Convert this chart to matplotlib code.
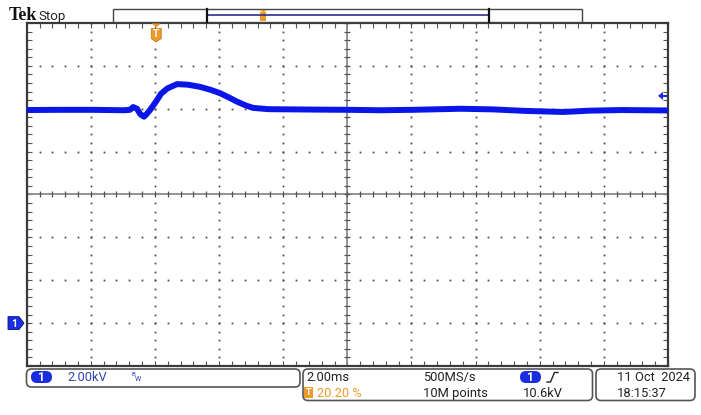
import numpy as np
import matplotlib
matplotlib.use('Agg')
import matplotlib.pyplot as plt
from matplotlib.patches import FancyBboxPatch, Rectangle, Polygon

time_ms = [-4.04, -3.0, -2.0, -1.0, -0.82, -0.72, -0.60, -0.50, -0.38, -0.30,
           -0.19, 0.0, 0.15, 0.35, 0.65, 1.0, 1.37, 1.7, 2.0, 2.3, 2.52, 2.8,
           3.02, 3.5, 5.0, 6.0, 7.0, 8.0, 9.5, 10.5, 11.5, 12.7, 13.5, 14.5, 15.96]
voltage_kv = [9.94, 9.95, 9.95, 9.93, 9.95, 10.08, 10.00, 9.75, 9.63, 9.75,
              9.95, 10.35, 10.70, 10.95, 11.15, 11.12, 11.02, 10.88, 10.72, 10.50, 10.33, 10.15,
              10.04, 9.98, 9.96, 9.95, 9.93, 9.95, 10.00, 9.97, 9.90, 9.85, 9.91, 9.94, 9.92]

time_per_div = 2.0       # ms/div
volt_per_div = 2.0       # kV/div
trigger_pos = 0.2020     # fraction of record
ground_div = -3          # divisions from screen centre
trigger_level = 10.6     # kV

status_left = ["2.00kV"]
status_mid = ["2.00ms", "20.20 %", "500MS/s", "10M points", "10.6kV"]
status_right = ["11 Oct  2024", "18:15:37"]

W, H = 701, 415
fig = plt.figure(figsize=(W / 100, H / 100), dpi=100)
fig.patch.set_facecolor('white')

# plot area in pixels
L, R, T, B = 26.7, 668.0, 23.0, 366.0
pos = [L / W, 1 - B / H, (R - L) / W, (B - T) / H]

# ----- graticule axes (divisions) -----
g = fig.add_axes(pos)
g.set_xlim(0, 10)
g.set_ylim(0, 8)
g.set_facecolor('white')
for s in g.spines.values():
    s.set_color('#3a3a3a')
    s.set_linewidth(1.6)
minor_x = np.arange(0, 10.001, 0.2)
minor_y = np.arange(0, 8.001, 0.2)
g.set_xticks(minor_x)
g.set_yticks(minor_y)
g.tick_params(direction='in', length=3.5, width=0.8, colors='#555555',
              top=True, right=True, labelbottom=False, labelleft=False)
dot_kw = dict(ls='none', marker='s', ms=1.3, color='#505050', mew=0)
for xv in range(1, 10):
    if xv == 5:
        continue
    g.plot(np.full_like(minor_y, xv), minor_y, **dot_kw)
for yv in range(1, 8):
    if yv == 4:
        continue
    g.plot(minor_x, np.full_like(minor_x, yv), **dot_kw)
g.axvline(5, color='#8a8a8a', lw=1.3)
g.axhline(4, color='#8a8a8a', lw=1.3)
g.plot(np.full_like(minor_y, 5), minor_y, ls='none', marker='_', ms=5, mew=0.9, color='#555555')
g.plot(minor_x, np.full_like(minor_x, 4), ls='none', marker='|', ms=5, mew=0.9, color='#555555')

# ----- trace axes (ms, kV) -----
ax = fig.add_axes(pos)
t0 = -trigger_pos * 10 * time_per_div
ax.set_xlim(t0, t0 + 10 * time_per_div)
ymin = (-4 - ground_div) * volt_per_div
ax.set_ylim(ymin, ymin + 8 * volt_per_div)
ax.patch.set_alpha(0)
ax.axis('off')
ax.plot(time_ms, voltage_kv, color='#0a16e8', lw=4.3, solid_joinstyle='round',
        solid_capstyle='butt')

# ----- overlay in pixel coords -----
fa = fig.add_axes([0, 0, 1, 1])
fa.set_xlim(0, W)
fa.set_ylim(H, 0)
fa.axis('off')

ORANGE = '#ec9a2a'
BLUE = '#1a2ee0'
TXTBLUE = '#3343b0'
sans = ['Roboto', 'DejaVu Sans']

fa.text(9, 16, 'Tek', family=['Liberation Serif', 'DejaVu Serif'], weight='bold',
        fontsize=13, ha='left', va='center', color='#111111')
fa.text(38, 16.5, 'Stop', family=sans, fontsize=9.5, ha='left', va='center', color='#222222')

# record bar
fa.add_patch(Rectangle((113, 9), 582 - 113, 13, fc='white', ec='#444444', lw=1.0))
fa.plot([207, 489], [15, 15], color='#2b2f8a', lw=1.2)
fa.plot([207.3, 207.3], [9, 22], color='#111111', lw=1.6)
fa.plot([489.3, 489.3], [9, 22], color='#111111', lw=1.6)
fa.add_patch(Rectangle((260.3, 12.5), 6, 8.5, fc=ORANGE, ec='none'))
fa.add_patch(Polygon([[259.8, 10], [266.8, 10], [263.3, 12.5]], closed=True, fc=ORANGE, ec='none'))

# trigger position marker
trig_x = L + trigger_pos * (R - L)
fa.add_patch(Polygon([[trig_x - 4.5, 23.5], [trig_x + 4.5, 23.5], [trig_x, 27.5]],
                     closed=True, fc=ORANGE, ec='none'))
fa.add_patch(Polygon([[trig_x - 5, 28.5], [trig_x + 5, 28.5], [trig_x + 5, 38.5],
                      [trig_x, 42], [trig_x - 5, 38.5]], closed=True, fc=ORANGE, ec='#c07010', lw=0.5))
fa.text(trig_x, 34, 'T', family=sans, weight='bold', fontsize=7, color='white',
        ha='center', va='center')

# channel 1 ground marker
gy = T + (4 - ground_div) * (B - T) / 8
fa.add_patch(Polygon([[8, gy - 6.5], [19, gy - 6.5], [24, gy], [19, gy + 6.5], [8, gy + 6.5]],
                     closed=True, fc=BLUE, ec='#0a1280', lw=0.6))
fa.text(14, gy + 0.5, '1', family=sans, fontsize=7.5, color='white', ha='center', va='center',
        weight='bold')

# trigger level arrow
ty = T + (4 - (trigger_level / volt_per_div + ground_div)) * (B - T) / 8
fa.add_patch(Polygon([[658, ty], [663, ty - 4], [663, ty + 4]], closed=True, fc=BLUE, ec='none'))
fa.plot([662, 666.5], [ty, ty], color=BLUE, lw=1.5)

# status boxes
box_kw = dict(boxstyle='round,pad=0,rounding_size=5', fc='white', ec='#555555', lw=1.2)
fa.add_patch(FancyBboxPatch((26.5, 369), 273.5, 18, **box_kw))
fa.add_patch(FancyBboxPatch((303, 369), 289.5, 31.5, **box_kw))
fa.add_patch(FancyBboxPatch((596, 369), 99, 31.5, **box_kw))

def ch_badge(x0, y0):
    fa.add_patch(FancyBboxPatch((x0, y0), 21, 12, boxstyle='round,pad=0,rounding_size=6',
                                fc=BLUE, ec='none'))
    fa.text(x0 + 10.5, y0 + 6.3, '1', family=sans, fontsize=8.5, color='white',
            ha='center', va='center', weight='bold')

ch_badge(31, 371)
fa.text(67, 377.5, status_left[0], family=sans, fontsize=9.3, color=TXTBLUE, ha='left', va='center')
fa.text(132, 374.5, 'B', family=sans, fontsize=4.5, color=TXTBLUE, ha='left', va='center')
fa.text(135, 379, 'W', family=sans, fontsize=5, color=TXTBLUE, ha='left', va='center')

fa.text(306, 377.5, status_mid[0], family=sans, fontsize=9.3, color='#222222', ha='left', va='center')
fa.add_patch(Rectangle((303.5, 386.5), 9.5, 11, fc=ORANGE, ec='none'))
fa.text(308.3, 392, 'T', family=sans, fontsize=6.5, color='white', ha='center', va='center',
        weight='bold')
fa.text(317, 393, status_mid[1], family=sans, fontsize=9.3, color=ORANGE, ha='left', va='center')
fa.text(423, 377.5, status_mid[2], family=sans, fontsize=9.3, color='#222222', ha='left', va='center')
fa.text(423, 393, status_mid[3], family=sans, fontsize=9.3, color='#222222', ha='left', va='center')
ch_badge(520, 371)
fa.plot([547, 550.5, 554.5, 558], [382, 382, 372.5, 372.5], color='#222222', lw=1.0)
fa.text(523, 393, status_mid[4], family=sans, fontsize=9.3, color='#222222', ha='left', va='center')

fa.text(617, 377.5, status_right[0], family=sans, fontsize=9.3, color='#222222', ha='left', va='center')
fa.text(617, 393, status_right[1], family=sans, fontsize=9.3, color='#222222', ha='left', va='center')

fig.savefig('out.png', dpi=100, facecolor='white')
